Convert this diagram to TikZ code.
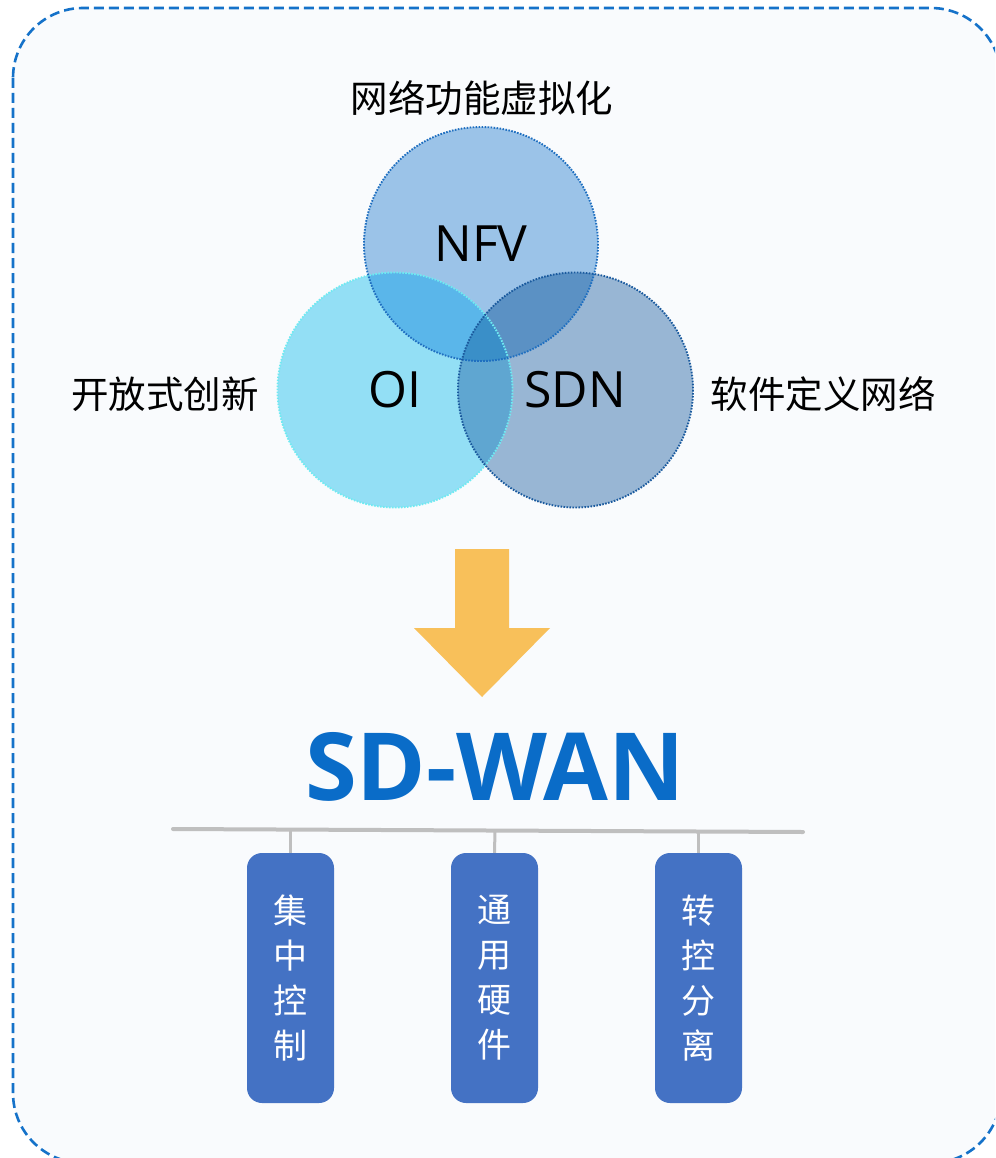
\documentclass[tikz,border=0pt]{standalone}
\usepackage{fontspec}
\setmainfont{Noto Sans CJK SC}
\newfontfamily\latinfont{Open Sans}
\definecolor{bgpanel}{HTML}{F9FBFD}
\definecolor{dashblue}{HTML}{1572C9}
\definecolor{cNFV}{HTML}{9BC3E8}
\definecolor{cOI}{HTML}{93DFF5}
\definecolor{cSDN}{HTML}{98B6D4}
\definecolor{cNO}{HTML}{5AB6EA}
\definecolor{cNS}{HTML}{5B91C4}
\definecolor{cOS}{HTML}{5FA6D1}
\definecolor{cAll}{HTML}{3A8FC8}
\definecolor{bNFV}{HTML}{1F6FC0}
\definecolor{bOI}{HTML}{6FEAF2}
\definecolor{bSDN}{HTML}{1A5A9E}
\definecolor{arrowyellow}{HTML}{F8C05A}
\definecolor{wanblue}{HTML}{0A6CC8}
\definecolor{boxblue}{HTML}{4472C4}
\definecolor{bargray}{HTML}{BFBFBF}
\tikzset{
  cjklabel/.style={font=\fontsize{37.5}{40}\selectfont, text=black, inner sep=0pt},
  vennlabel/.style={font=\latinfont\fontsize{50}{55}\selectfont, text=black, inner sep=0pt},
  circborder/.style={line width=1.9pt, dash pattern=on 1.6pt off 1.4pt},
  pillbox/.style={draw=none, fill=boxblue, rounded corners=15pt, minimum width=87pt, minimum height=250pt, inner sep=0pt, align=center, text=white, font=\fontsize{34}{45}\selectfont},
  graybar/.style={draw=bargray, line width=4pt, line cap=round},
  graytick/.style={draw=bargray, line width=3pt}
}
\begin{document}
\begin{tikzpicture}[x=1pt,y=-1pt]
\useasboundingbox (0,0) rectangle (995,1158);
\fill[white] (0,0) rectangle (995,1158);
\clip (0,0) rectangle (995,1158);
% panel
\draw[fill=bgpanel, draw=dashblue, line width=2.6pt, dash pattern=on 10pt off 5pt, rounded corners=70pt] (13,8) rectangle (1001,1163);
% venn fills
\def\cN{(481,244) circle (117)}
\def\cO{(395,390) circle (117.5)}
\def\cS{(575.5,390) circle (117.5)}
\fill[cOI] \cO;
\fill[cNFV] \cN;
\fill[cSDN] \cS;
\begin{scope}
  \clip \cN;
  \fill[cNO] \cO;
  \fill[cNS] \cS;
\end{scope}
\begin{scope}
  \clip \cO;
  \fill[cOS] \cS;
\end{scope}
\begin{scope}
  \clip \cN;
  \clip \cO;
  \fill[cAll] \cS;
\end{scope}
\draw[circborder, draw=bOI] \cO;
\draw[circborder, draw=bNFV] \cN;
\draw[circborder, draw=bSDN] \cS;
% venn labels
\node[vennlabel] (nfv) at (481,244) {NFV};
\node[vennlabel] (oi) at (395,390) {OI};
\node[vennlabel] (sdn) at (575,390) {SDN};
\node[cjklabel] (nfvcn) at (482,98) {网络功能虚拟化};
\node[cjklabel] (oicn) at (165,394) {开放式创新};
\node[cjklabel] (sdncn) at (823,394) {软件定义网络};
% arrow
\fill[arrowyellow] (455,549) -- (509,549) -- (509,628) -- (550,628) -- (482,697) -- (414,628) -- (455,628) -- cycle;
% SD-WAN title
\node[font=\latinfont\bfseries\fontsize{94}{100}\selectfont, text=wanblue, inner sep=0pt] (wan) at (495,767) {SD-WAN};
% bar
\coordinate (barL) at (173,829);
\coordinate (barR) at (803,832);
\coordinate (t1) at (290.5,829.6);
\coordinate (t2) at (495,830.5);
\coordinate (t3) at (698.5,831.5);
% boxes
\node[pillbox] (box1) at (290.5,978) {集\\中\\控\\制};
\node[pillbox] (box2) at (494.5,978) {通\\用\\硬\\件};
\node[pillbox] (box3) at (698.5,978) {转\\控\\分\\离};
\draw[graytick] (t1) -- (box1.north);
\draw[graytick] (t2) -- (box2.north);
\draw[graytick] (t3) -- (box3.north);
\draw[graybar] (barL) -- (barR);
\end{tikzpicture}
\end{document}
